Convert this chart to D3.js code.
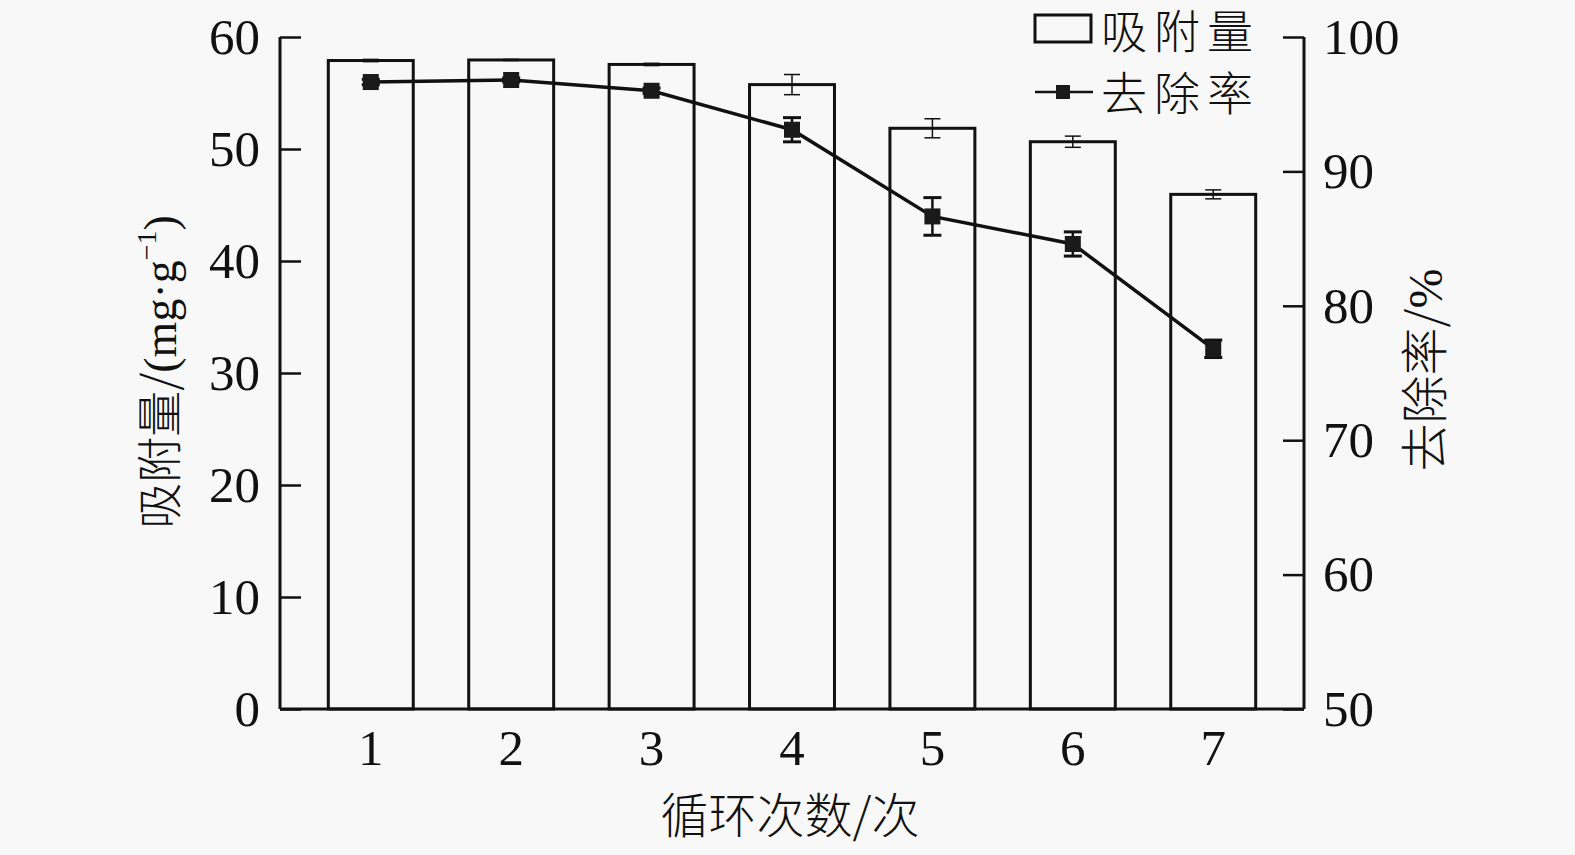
<!DOCTYPE html>
<html><head><meta charset="utf-8">
<script src="https://cdn.jsdelivr.net/npm/d3@7"></script>
<style>
html,body{margin:0;padding:0;background:#f8f8f8;}
svg{display:block;}
.num{font-family:"Liberation Serif","Times New Roman",serif;}
.cjk{font-family:"Noto Sans CJK SC","Noto Sans CJK JP",sans-serif;font-weight:300;}
</style></head>
<body>
<svg id="chart" width="1575" height="855"></svg>
<script>
const cycles = ["1","2","3","4","5","6","7"];
const adsorption = [57.9, 57.95, 57.55, 55.75, 51.85, 50.65, 45.95];
const adsorptionErr = [0.1, 0.05, 0.1, 0.9, 0.85, 0.5, 0.4];
const removal = [96.65, 96.8, 96.0, 93.1, 86.65, 84.6, 76.8];
const removalErr = [0.2, 0.15, 0.2, 0.9, 1.4, 0.9, 0.65];
const leftTicks = [0,10,20,30,40,50,60];
const rightTicks = [50,60,70,80,90,100];

const svg = d3.select("#chart");
const L = 280, R = 1304, T = 37, B = 709;

const x = d3.scaleBand().domain(cycles).range([L, R]).paddingInner(0.395).paddingOuter(0.344);
const yL = d3.scaleLinear().domain([0, 60]).range([B, T]);
const yR = d3.scaleLinear().domain([50, 100]).range([B, T]);

// bars
const g = svg.append("g");
g.selectAll("rect.bar").data(cycles).join("rect")
  .attr("x", d => x(d)).attr("width", x.bandwidth())
  .attr("y", (d,i) => yL(adsorption[i]))
  .attr("height", (d,i) => B - yL(adsorption[i]))
  .attr("fill", "#f8f8f8").attr("stroke", "#111").attr("stroke-width", 3);

// bar error bars
cycles.forEach((d,i) => {
  const cx = x(d) + x.bandwidth()/2;
  const y1 = yL(adsorption[i] + adsorptionErr[i]), y2 = yL(adsorption[i] - adsorptionErr[i]);
  g.append("line").attr("x1", cx).attr("x2", cx).attr("y1", y1).attr("y2", y2).attr("stroke", "#111").attr("stroke-width", 1.5);
  [y1, y2].forEach(yy => g.append("line").attr("x1", cx-8).attr("x2", cx+8).attr("y1", yy).attr("y2", yy).attr("stroke", "#111").attr("stroke-width", 1.5));
});

// removal line
const line = d3.line().x((d,i) => x(cycles[i]) + x.bandwidth()/2).y(d => yR(d));
g.append("path").datum(removal).attr("d", line).attr("fill", "none").attr("stroke", "#111").attr("stroke-width", 3.5);
cycles.forEach((d,i) => {
  const cx = x(d) + x.bandwidth()/2;
  const y1 = yR(removal[i] + removalErr[i]), y2 = yR(removal[i] - removalErr[i]);
  g.append("line").attr("x1", cx).attr("x2", cx).attr("y1", y1).attr("y2", y2).attr("stroke", "#111").attr("stroke-width", 2.5);
  [y1, y2].forEach(yy => g.append("line").attr("x1", cx-9).attr("x2", cx+9).attr("y1", yy).attr("y2", yy).attr("stroke", "#111").attr("stroke-width", 3));
  g.append("rect").attr("x", cx-8).attr("y", yR(removal[i])-8).attr("width", 16).attr("height", 16).attr("fill", "#1a1a1a");
});

// axes
const axL = svg.append("g").attr("transform", `translate(${L},0)`)
  .call(d3.axisLeft(yL).tickValues(leftTicks).tickSizeInner(-21).tickSizeOuter(0).tickPadding(20));
const axR = svg.append("g").attr("transform", `translate(${R},0)`)
  .call(d3.axisRight(yR).tickValues(rightTicks).tickSizeInner(-21).tickSizeOuter(0).tickPadding(19));
const axB = svg.append("g").attr("transform", `translate(0,${B})`)
  .call(d3.axisBottom(x).tickSize(0).tickSizeOuter(0).tickPadding(20));
[axL, axR, axB].forEach(a => {
  a.select(".domain").attr("stroke", "#111").attr("stroke-width", 3);
  a.selectAll(".tick line").attr("stroke", "#111").attr("stroke-width", 2.5);
  a.selectAll(".tick text").attr("class", "num").attr("font-size", 51).attr("fill", "#111");
});
axL.select(".domain").attr("d", `M0,${T}V${B}`);
axR.select(".domain").attr("d", `M0,${T}V${B}`);
axB.select(".domain").attr("d", `M${L},0H${R}`);
axB.selectAll(".tick text").attr("dy", "0.71em");

// axis titles
const lt = svg.append("text").attr("transform", "translate(176,372) rotate(-90)")
  .attr("text-anchor", "middle").attr("fill", "#111").attr("font-size", 46);
lt.append("tspan").attr("class", "cjk").text("吸附量/");
lt.append("tspan").attr("class", "num").text("(mg·g");
lt.append("tspan").attr("class", "num").attr("font-size", 28).attr("dy", -20).text("−1");
lt.append("tspan").attr("class", "num").attr("dy", 20).text(")");

const rt = svg.append("text").attr("transform", "translate(1442,370) rotate(-90)")
  .attr("text-anchor", "middle").attr("fill", "#111").attr("font-size", 48);
rt.append("tspan").attr("class", "cjk").text("去除率/");
rt.append("tspan").attr("class", "num").text("%");

svg.append("text").attr("class", "cjk").attr("x", 790).attr("y", 833)
  .attr("text-anchor", "middle").attr("font-size", 48).attr("fill", "#111").text("循环次数/次");

// legend
svg.append("rect").attr("x", 1035).attr("y", 15).attr("width", 56).attr("height", 27)
  .attr("fill", "#f8f8f8").attr("stroke", "#111").attr("stroke-width", 3);
svg.append("text").attr("class", "cjk").attr("x", 1101).attr("y", 48).attr("font-size", 46).attr("letter-spacing", 7).attr("fill", "#111").text("吸附量");
svg.append("line").attr("x1", 1035).attr("x2", 1093).attr("y1", 92).attr("y2", 92).attr("stroke", "#111").attr("stroke-width", 2.5);
svg.append("rect").attr("x", 1056).attr("y", 85).attr("width", 14).attr("height", 14).attr("fill", "#1a1a1a");
svg.append("text").attr("class", "cjk").attr("x", 1101).attr("y", 110).attr("font-size", 46).attr("letter-spacing", 7).attr("fill", "#111").text("去除率");
</script>
</body></html>
